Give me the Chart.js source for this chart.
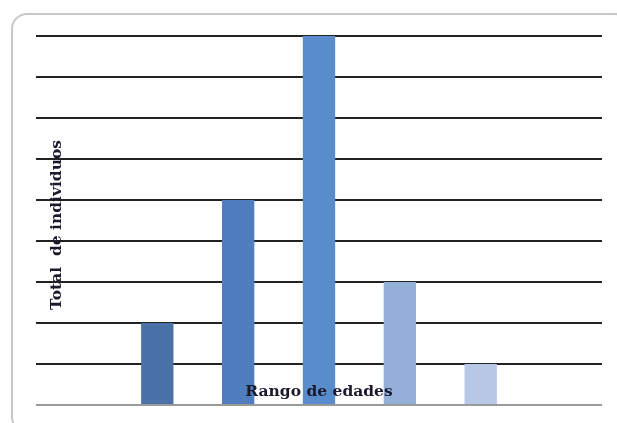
<!DOCTYPE html>
<html>
<head>
<meta charset="utf-8">
<script src="https://cdn.jsdelivr.net/npm/chart.js@4"></script>
<style>
  html, body { margin: 0; padding: 0; background: #fff; }
  #wrap { position: relative; width: 617px; height: 423px; overflow: hidden; }
  #frame {
    position: absolute; left: 11px; top: 13px; width: 620px; height: 420px;
    border: 2px solid #c8c8c8; border-radius: 16px; box-sizing: border-box;
  }
  canvas { position: absolute; left: 0; top: 0; }
</style>
</head>
<body>
<div id="wrap">
  <div id="frame"></div>
  <canvas id="myChart" width="617" height="423"></canvas>
</div>
<script>
// age ranges (labels not printed in the picture)
const categories = ['', '', '', '', '', '', ''];
// individuals per range
const values = [0, 2, 5, 9, 3, 1, 0];
const barColors = ['#4a72a8', '#4a72a8', '#4f7dbd', '#588ccc', '#95b0d8', '#b7c8e6', '#b7c8e6'];
const yTitle = 'Total  de individuos';
const xTitle = 'Rango de edades';

// titles sit inside the plot area, on top of the grid lines
const titlesPlugin = {
  id: 'titles',
  afterDraw(chart) {
    const { ctx, chartArea } = chart;
    ctx.save();
    ctx.fillStyle = '#1a1a2e';
    ctx.font = 'bold 15.5px "DejaVu Serif"';
    ctx.textAlign = 'center';
    ctx.textBaseline = 'middle';
    ctx.fillText(xTitle, 319, chartArea.bottom - 13);
    ctx.translate(57, 225);
    ctx.rotate(-Math.PI / 2);
    ctx.fillText(yTitle, 0, 0);
    ctx.restore();
  }
};

const ctx = document.getElementById('myChart').getContext('2d');
const myChart = new Chart(ctx, {
  type: 'bar',
  data: {
    labels: categories,
    datasets: [
      {
        data: values,
        backgroundColor: barColors,
        borderWidth: 0,
        categoryPercentage: 1,
        barPercentage: 0.4,
      },
    ],
  },
  options: {
    responsive: false,
    animation: false,
    layout: { padding: { left: 36, right: 15, top: 36, bottom: 10 } },
    plugins: { legend: { display: false }, tooltip: { enabled: false } },
    scales: {
      x: {
        grid: { display: false },
        border: { display: false },
        ticks: { display: false },
      },
      y: {
        min: 0,
        max: 9,
        ticks: { display: false, stepSize: 1 },
        border: { display: false },
        grid: {
          drawTicks: false,
          lineWidth: 2,
          color: (c) => (c.tick && c.tick.value === 0 ? '#9a9a9a' : '#222222'),
        },
      },
    },
  },
  plugins: [titlesPlugin],
});
</script>
</body>
</html>
